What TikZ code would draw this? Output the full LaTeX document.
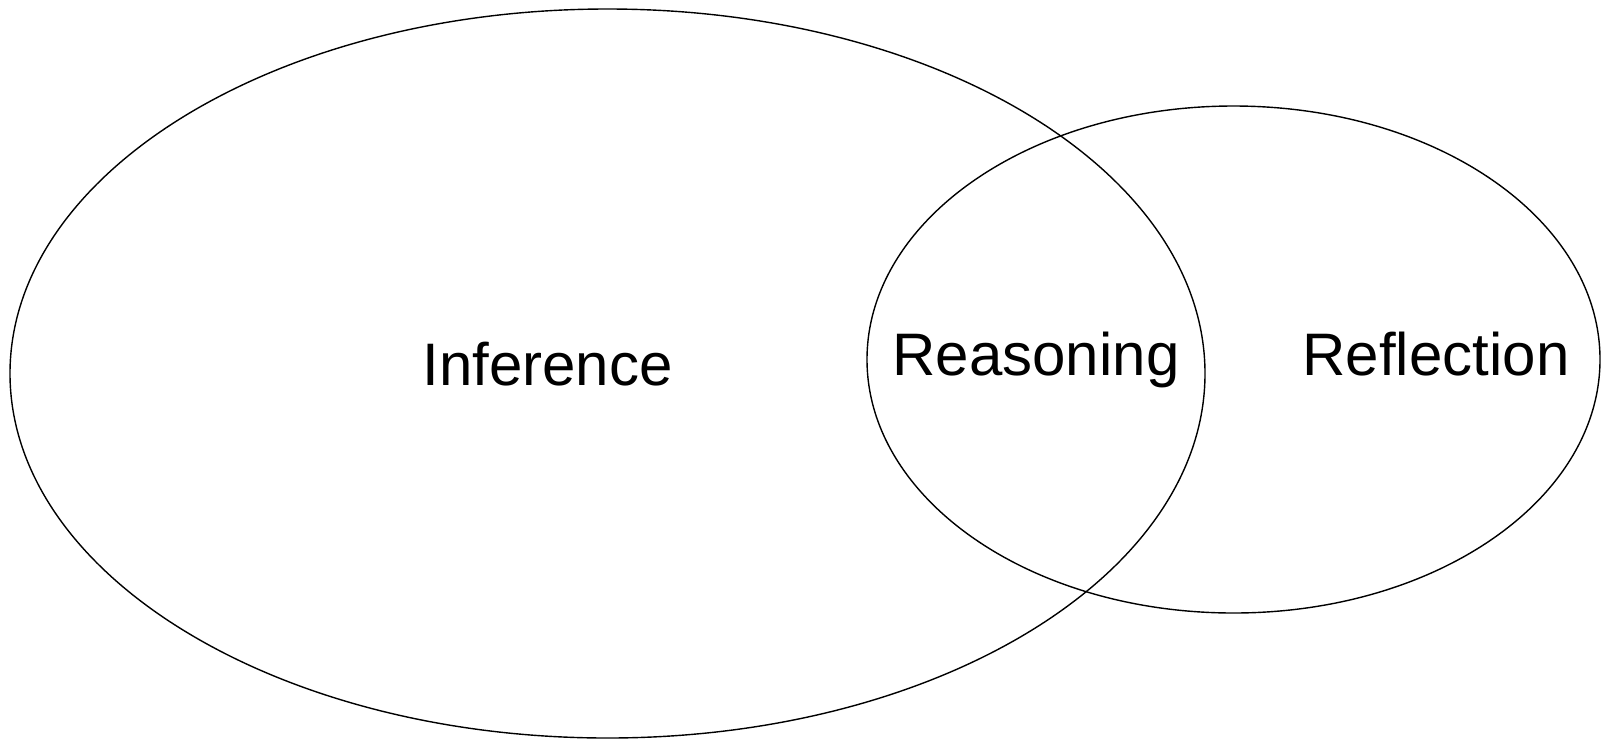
\documentclass[tikz,border=0pt]{standalone}
\usepackage{fontspec}
\setmainfont{Liberation Sans}
\tikzset{
  venn/.style={draw=black, line width=1.4pt},
  lbl/.style={anchor=base, inner sep=0pt, font=\fontsize{60}{72}\selectfont}
}
\begin{document}
\begin{tikzpicture}[x=1pt,y=-1pt]
\useasboundingbox (0,0) rectangle (1603,740);
\draw[venn] (607.5,373.5) ellipse [x radius=597.5, y radius=364.5];
\draw[venn] (1233.5,359.5) ellipse [x radius=366.5, y radius=253.5];
\node[lbl] (inference) at (547.5,385) {Inference};
\node[lbl] (reasoning) at (1036,375) {Reasoning};
\node[lbl] (reflection) at (1436,375) {Reflection};
\end{tikzpicture}
\end{document}
